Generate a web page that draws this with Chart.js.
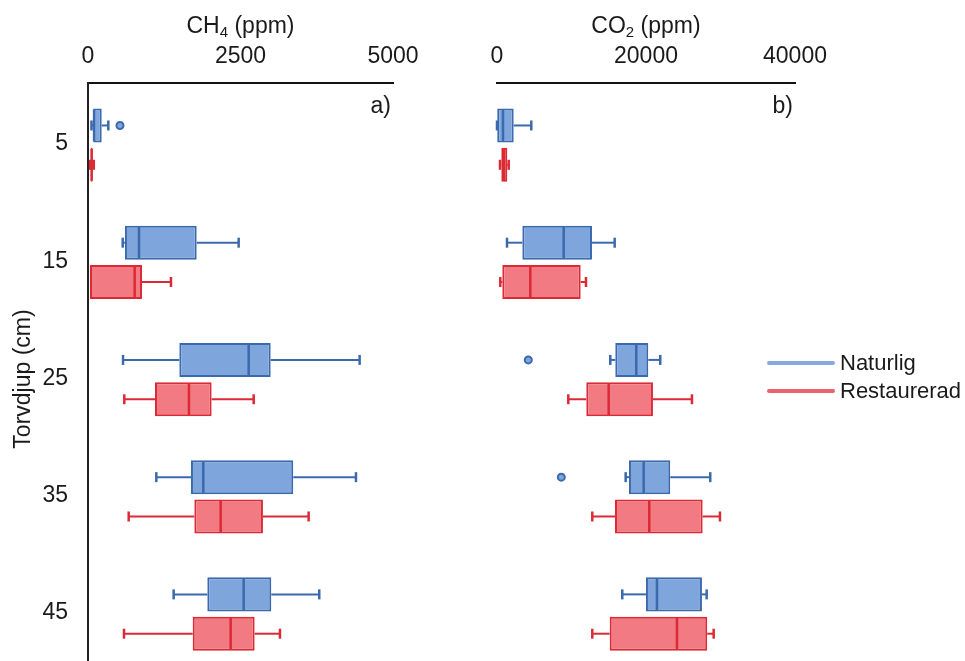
<!DOCTYPE html>
<html>
<head>
<meta charset="utf-8">
<script src="https://cdn.jsdelivr.net/npm/chart.js@4.4.1/dist/chart.umd.min.js"></script>
<style>
  html, body { margin: 0; padding: 0; background: #fff; }
  #wrap { position: relative; width: 965px; height: 661px; overflow: hidden; background: #fff; }
  .panel { position: absolute; top: 0; }
  #panelA { left: 0; }
  #panelB { left: 420px; }
</style>
</head>
<body>
<div id="wrap">
  <div class="panel" id="panelA"><canvas id="ch4" width="440" height="709"></canvas></div>
  <div class="panel" id="panelB"><canvas id="co2" width="545" height="709"></canvas></div>
</div>
<script>
// Peat depth (cm)
const depths = [5, 15, 25, 35, 45];
const seriesNames = ['Naturlig', 'Restaurerad'];

// CH4 (ppm) – natural site
const ch4NatMin = [57, 569, 574, 1120, 1404];
const ch4NatQ1  = [87, 606, 1497, 1688, 1956];
const ch4NatMed = [100, 836, 2634, 1890, 2552];
const ch4NatQ3  = [225, 1782, 2995, 3365, 3005];
const ch4NatMax = [333, 2470, 4453, 4393, 3791];
const ch4NatOut = [[524], [], [], [], []];

// CH4 (ppm) – restored site
const ch4ResMin = [35, 33, 595, 667, 590];
const ch4ResQ1  = [45, 33, 1098, 1743, 1716];
const ch4ResMed = [60, 765, 1655, 2175, 2339];
const ch4ResQ3  = [75, 885, 2027, 2868, 2732];
const ch4ResMax = [95, 1360, 2716, 3617, 3147];
const ch4ResOut = [[], [], [], [], []];

// CO2 (ppm) – natural site
const co2NatMin = [0, 1342, 15205, 17271, 16815];
const co2NatQ1  = [30, 3400, 15876, 17714, 19996];
const co2NatMed = [805, 8951, 18694, 19687, 21472];
const co2NatQ3  = [2241, 12749, 20305, 23257, 27511];
const co2NatMax = [4603, 15795, 21915, 28625, 28142];
const co2NatOut = [[], [], [4200], [8629], []];

// CO2 (ppm) – restored site
const co2ResMin = [403, 443, 9569, 12789, 12789];
const co2ResQ1  = [577, 711, 11984, 15836, 15124];
const co2ResMed = [940, 4469, 14990, 20439, 24156];
const co2ResQ3  = [1382, 11233, 20935, 27605, 28222];
const co2ResMax = [1570, 11944, 26169, 29927, 29082];
const co2ResOut = [[], [], [], [], []];

const FONT = '"Liberation Sans", Arial, Helvetica, sans-serif';
const TEXT = '#1a1a1a';
Chart.defaults.font.family = FONT;
Chart.defaults.font.size = 23;
Chart.defaults.color = TEXT;

const blue = { fill: '#7ea6dc', edge: '#3b69ad', legend: '#86aadc' };
const red  = { fill: '#f17a83', edge: '#db2a36', legend: '#e9626d' };

function boxDataset(label, col, q1, q3, mn, md, mx, out) {
  return {
    label,
    data: depths.map((d, i) => ({ y: d, x: [q1[i], q3[i]] })),
    backgroundColor: col.fill,
    borderColor: col.edge,
    legendColor: col.legend,
    borderWidth: 2,
    borderSkipped: false,
    categoryPercentage: 0.671,
    barPercentage: 0.865,
    whiskerMin: mn,
    median: md,
    whiskerMax: mx,
    outliers: out
  };
}

// Whiskers, caps, medians and outlier points on top of the q1–q3 bars
const boxPlotParts = {
  id: 'boxPlotParts',
  afterDatasetsDraw(chart) {
    const ctx = chart.ctx;
    const xs = chart.scales.x;
    const px = v => xs.getPixelForValue(v);
    chart.data.datasets.forEach((ds, di) => {
      const meta = chart.getDatasetMeta(di);
      meta.data.forEach((bar, i) => {
        const { y, height } = bar.getProps(['y', 'height'], true);
        const q1 = ds.data[i].x[0], q3 = ds.data[i].x[1];
        const lo = ds.whiskerMin[i], hi = ds.whiskerMax[i];
        const cap = 5;
        ctx.save();
        ctx.strokeStyle = ds.borderColor;
        ctx.lineCap = 'butt';
        if (lo < q1) {
          ctx.lineWidth = 2;
          ctx.beginPath(); ctx.moveTo(px(lo), y); ctx.lineTo(px(q1), y); ctx.stroke();
          ctx.lineWidth = 2.5;
          ctx.beginPath(); ctx.moveTo(px(lo), y - cap); ctx.lineTo(px(lo), y + cap); ctx.stroke();
        }
        if (hi > q3) {
          ctx.lineWidth = 2;
          ctx.beginPath(); ctx.moveTo(px(q3), y); ctx.lineTo(px(hi), y); ctx.stroke();
          ctx.lineWidth = 2.5;
          ctx.beginPath(); ctx.moveTo(px(hi), y - cap); ctx.lineTo(px(hi), y + cap); ctx.stroke();
        }
        ctx.lineWidth = 2.5;
        ctx.beginPath();
        ctx.moveTo(px(ds.median[i]), y - height / 2 + 1);
        ctx.lineTo(px(ds.median[i]), y + height / 2 - 1);
        ctx.stroke();
        ds.outliers[i].forEach(v => {
          ctx.beginPath();
          ctx.arc(px(v), y, 3.5, 0, Math.PI * 2);
          ctx.fillStyle = ds.backgroundColor;
          ctx.fill();
          ctx.lineWidth = 2;
          ctx.stroke();
        });
        ctx.restore();
      });
    });
  }
};

// Axis title with a subscript (CH4 / CO2) and the panel letter
const panelText = {
  id: 'panelText',
  afterDraw(chart, args, opts) {
    const ctx = chart.ctx;
    const xs = chart.scales.x;
    const area = chart.chartArea;
    ctx.save();
    ctx.fillStyle = TEXT;
    ctx.textBaseline = 'alphabetic';
    const big = '23px ' + FONT, small = '15px ' + FONT;
    ctx.font = big;
    const w1 = ctx.measureText(opts.main).width;
    const w3 = ctx.measureText(opts.rest).width;
    ctx.font = small;
    const w2 = ctx.measureText(opts.sub).width;
    let x = (xs.left + xs.right) / 2 - (w1 + w2 + w3) / 2;
    const base = 33;
    ctx.textAlign = 'left';
    ctx.font = big; ctx.fillText(opts.main, x, base); x += w1;
    ctx.font = small; ctx.fillText(opts.sub, x, base + 4); x += w2;
    ctx.font = big; ctx.fillText(opts.rest, x, base);
    ctx.textAlign = 'right';
    ctx.textBaseline = 'middle';
    ctx.font = big;
    ctx.fillText(opts.letter, area.right - 2, area.top + 24);
    ctx.restore();
  }
};

// Line-style legend beside the CO2 panel
const lineLegend = {
  id: 'lineLegend',
  afterDraw(chart, args, opts) {
    if (!opts.show) return;
    const ctx = chart.ctx;
    const area = chart.chartArea;
    const x0 = area.right - 26, x1 = area.right + 38;
    ctx.save();
    ctx.font = '22px ' + FONT;
    ctx.textBaseline = 'middle';
    ctx.textAlign = 'left';
    chart.data.datasets.forEach((ds, i) => {
      const y = area.top + 280 + i * 28;
      ctx.strokeStyle = ds.legendColor;
      ctx.lineWidth = 4;
      ctx.lineCap = 'round';
      ctx.beginPath(); ctx.moveTo(x0, y); ctx.lineTo(x1, y); ctx.stroke();
      ctx.fillStyle = TEXT;
      ctx.fillText(ds.label, x1 + 7, y + 1);
    });
    ctx.restore();
  }
};

function makeChart(id, cfg) {
  const yAxis = {
    type: 'linear',
    reverse: true,
    offset: false,
    min: -0.3,
    max: 50.2,
    display: cfg.showY,
    grid: { display: false, drawTicks: false, offset: false },
    border: { display: true, color: '#222', width: 2 },
    afterBuildTicks: s => { s.ticks = depths.map(v => ({ value: v })); },
    afterFit: s => { s.width = cfg.yWidth; },
    ticks: { padding: 20, labelOffset: -1, color: TEXT, font: { size: 23 }, callback: v => String(v) },
    title: { display: cfg.showY, text: 'Torvdjup (cm)', color: TEXT, font: { size: 23 }, padding: { top: 10, bottom: 0 } }
  };
  return new Chart(document.getElementById(id), {
    type: 'bar',
    data: { datasets: cfg.datasets },
    options: {
      indexAxis: 'y',
      responsive: false,
      animation: false,
      devicePixelRatio: 1,
      layout: { padding: cfg.padding },
      scales: {
        x: {
          type: 'linear',
          position: 'top',
          min: 0,
          max: cfg.xMax,
          grid: { display: false, drawTicks: false },
          border: { display: true, color: '#111', width: 2 },
          afterFit: s => { s.height = 83; },
          ticks: { stepSize: cfg.xMax / 2, padding: 13, color: TEXT, font: { size: 23 }, callback: v => String(v) }
        },
        y: yAxis
      },
      plugins: {
        legend: { display: false },
        tooltip: { enabled: false },
        panelText: cfg.text,
        lineLegend: { show: cfg.legend }
      }
    },
    plugins: [boxPlotParts, panelText, lineLegend]
  });
}

makeChart('ch4', {
  xMax: 5000,
  showY: true,
  yWidth: 88,
  padding: { left: 0, right: 47, top: 0, bottom: 34 },
  legend: false,
  text: { main: 'CH', sub: '4', rest: ' (ppm)', letter: 'a)' },
  datasets: [
    boxDataset(seriesNames[0], blue, ch4NatQ1, ch4NatQ3, ch4NatMin, ch4NatMed, ch4NatMax, ch4NatOut),
    boxDataset(seriesNames[1], red, ch4ResQ1, ch4ResQ3, ch4ResMin, ch4ResMed, ch4ResMax, ch4ResOut)
  ]
});

makeChart('co2', {
  xMax: 40000,
  showY: false,
  yWidth: 0,
  padding: { left: 77, right: 170, top: 0, bottom: 34 },
  legend: true,
  text: { main: 'CO', sub: '2', rest: ' (ppm)', letter: 'b)' },
  datasets: [
    boxDataset(seriesNames[0], blue, co2NatQ1, co2NatQ3, co2NatMin, co2NatMed, co2NatMax, co2NatOut),
    boxDataset(seriesNames[1], red, co2ResQ1, co2ResQ3, co2ResMin, co2ResMed, co2ResMax, co2ResOut)
  ]
});
</script>
</body>
</html>
